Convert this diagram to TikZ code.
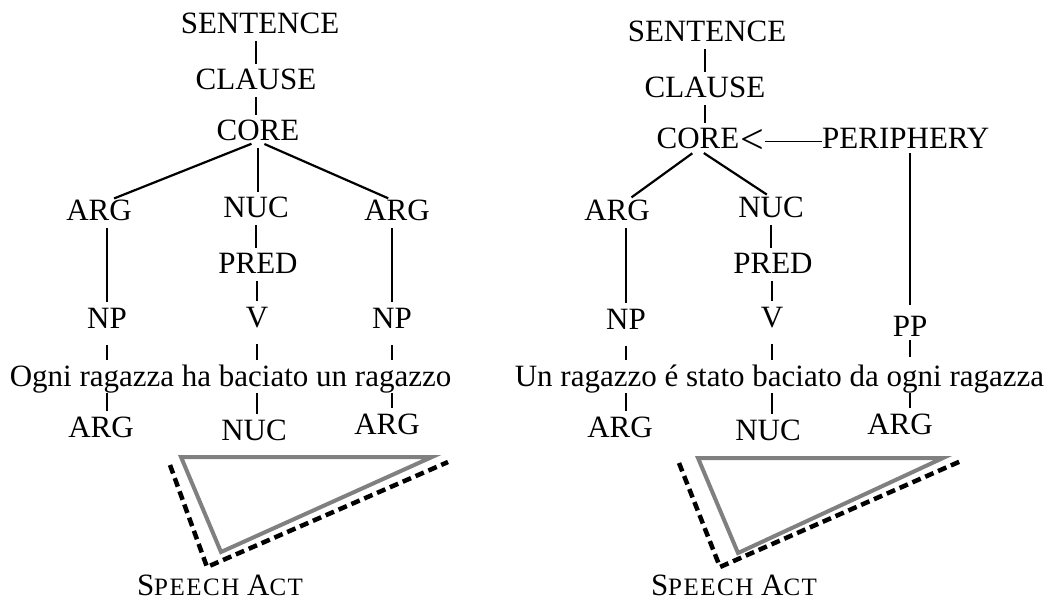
\documentclass[tikz,border=0pt]{standalone}
\usepackage{fontspec}
\setmainfont{Liberation Serif}
\newcommand{\lowcaps}[1]{{\fontsize{25bp}{30bp}\selectfont\addfontfeature{LetterSpace=6}#1}}
\begin{document}
\begin{tikzpicture}[x=1bp,y=-1bp,
  lab/.style={inner sep=0pt,text height=20.5bp,text depth=0pt,anchor=base,font=\fontsize{31bp}{37bp}\selectfont},
  br/.style={line width=2.2bp,shorten <=7bp,shorten >=5bp},
  tri/.style={draw=gray,line width=4bp},
  sadash/.style={draw=black,line width=4.5bp,dash pattern=on 9bp off 5bp}]
\useasboundingbox (0,0) rectangle (1053,601);

\node[lab] (s1) at (260,34) {SENTENCE};
\node[lab] (cl1) at (256,90) {CLAUSE};
\node[lab] (co1) at (258,141) {CORE};
\node[lab] (a1) at (99,221) {ARG};
\node[lab] (n1) at (256,218) {NUC};
\node[lab] (b1) at (397,221) {ARG};
\node[lab] (p1) at (258,274) {PRED};
\node[lab] (np1) at (107,328) {NP};
\node[lab] (v1) at (257,327) {V};
\node[lab] (nq1) at (392,328) {NP};
\node[lab] (w1) at (230.5,386) {Ogni ragazza ha baciato un ragazzo};
\node[lab] (ga1) at (101,437) {ARG};
\node[lab] (gn1) at (254,440) {NUC};
\node[lab] (gb1) at (387,434) {ARG};
\node[lab] (sa1) at (220,595) {S\lowcaps{PEECH} A\lowcaps{CT}};

\path[draw,br] (s1.south -| cl1) -- (cl1.north);
\path[draw,br] (cl1.south) -- (cl1.south |- co1.north);
\path[draw,br] (co1.south) -- (a1.45);
\path[draw,br] (co1.south) -- (co1.south |- n1.north);
\path[draw,br] (co1.south) -- (b1.112);
\path[draw,br] (n1.south) -- (n1.south |- p1.north);
\path[draw,br] (p1.south -| v1) -- (v1.north);
\path[draw,br] (a1.south -| np1) -- (np1.north);
\path[draw,br] (b1.south -| nq1) -- (nq1.north);
\path[draw,br,shorten <=17bp] (np1.south) -- (np1 |- w1.north);
\path[draw,br,shorten <=17bp] (v1.south) -- (v1 |- w1.north);
\path[draw,br,shorten <=17bp] (nq1.south) -- (nq1 |- w1.north);
\path[draw,br] (np1 |- w1.south) -- (np1 |- ga1.north);
\path[draw,br] (v1 |- w1.south) -- (v1 |- gn1.north);
\path[draw,br] (nq1 |- w1.south) -- (nq1 |- gb1.north);

\path[tri] (181,457) -- (432,457) -- (221,552) -- cycle;
\path[sadash] (170,465) -- (207,567) -- (448,462);

\node[lab] (s2) at (707,42) {SENTENCE};
\node[lab] (cl2) at (705,98) {CLAUSE};
\node[lab] (co2) at (698,149) {CORE};
\node[inner sep=0pt,anchor=west,font=\fontsize{42bp}{42bp}\selectfont] (lt) at ([xshift=1bp,yshift=7.5bp]co2.base east) {<};
\node[lab,anchor=base west] (pe2) at (822,149) {PERIPHERY};
\node[lab] (a2) at (617,221) {ARG};
\node[lab] (n2) at (771,218) {NUC};
\node[lab] (p2) at (773,274) {PRED};
\node[lab] (np2) at (626,329) {NP};
\node[lab] (v2) at (772,327) {V};
\node[lab] (pp2) at (910,336) {PP};
\node[lab] (w2) at (779.5,386) {Un ragazzo é stato baciato da ogni ragazza};
\node[lab] (ga2) at (620,437) {ARG};
\node[lab] (gn2) at (768,440) {NUC};
\node[lab] (gb2) at (900,434) {ARG};
\node[lab] (sa2) at (734,595) {S\lowcaps{PEECH} A\lowcaps{CT}};

\path[draw,br] (s2.south -| cl2) -- (cl2.north);
\path[draw,br] (cl2.south) -- (cl2.south |- co2.north);
\path[draw,br] (co2.south) -- (a2.45);
\path[draw,br] (co2.south) -- (n2.north);
\path[draw,line width=1.2bp] (pe2.west |- lt.east) -- (lt.east);
\path[draw,br,shorten <=4bp,shorten >=10bp] (pe2.south -| pp2) -- (pp2.north);
\path[draw,br] (n2.south) -- (n2.south |- p2.north);
\path[draw,br] (p2.south -| v2) -- (v2.north);
\path[draw,br] (a2.south -| np2) -- (np2.north);
\path[draw,br,shorten <=17bp] (np2.south) -- (np2 |- w2.north);
\path[draw,br,shorten <=17bp] (v2.south) -- (v2 |- w2.north);
\path[draw,br,shorten <=4bp,shorten >=8bp] (pp2.south) -- (pp2 |- w2.north);
\path[draw,br] (np2 |- w2.south) -- (np2 |- ga2.north);
\path[draw,br] (v2 |- w2.south) -- (v2 |- gn2.north);
\path[draw,br] (pp2 |- w2.south) -- (pp2 |- gb2.north);

\path[tri] (698,458) -- (943,458) -- (738,553) -- cycle;
\path[sadash] (679,463) -- (720,567) -- (961,461);
\end{tikzpicture}
\end{document}
